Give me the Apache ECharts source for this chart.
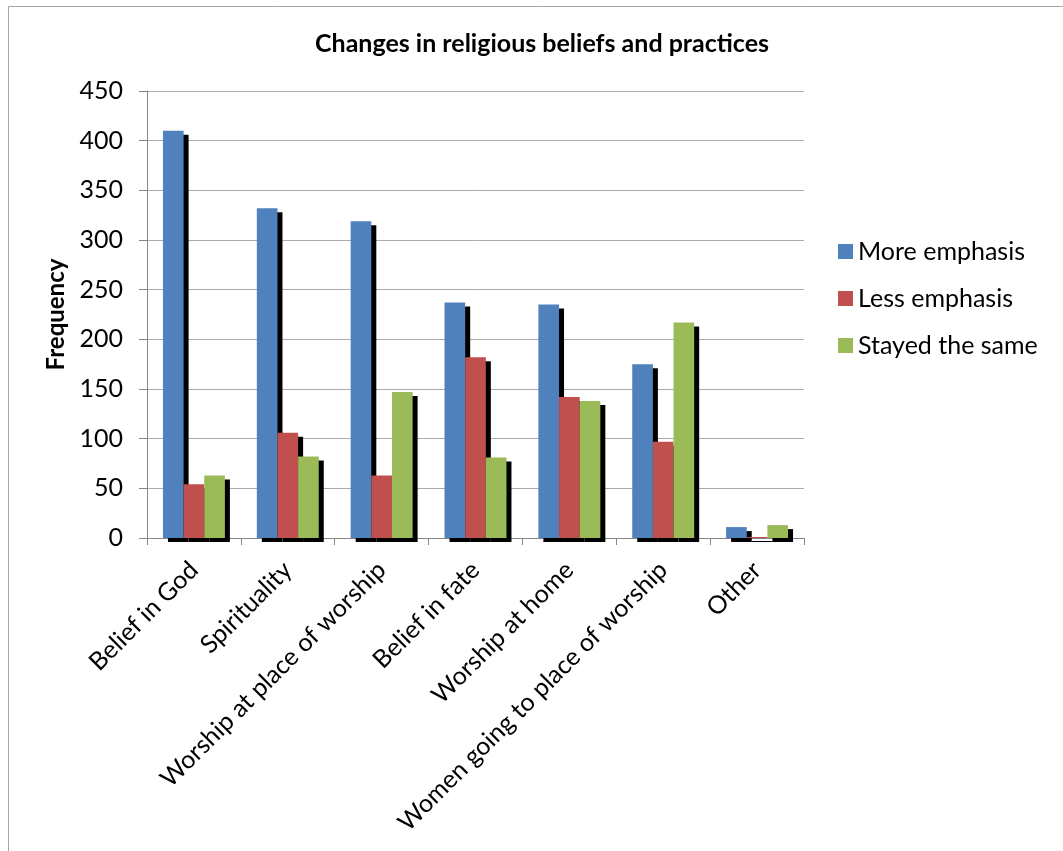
<!DOCTYPE html>
<html>
<head>
<meta charset="utf-8">
<style>
  html, body { margin: 0; padding: 0; background: #ffffff; }
  #chart { width: 1063px; height: 851px; }
</style>
<script src="https://cdn.jsdelivr.net/npm/echarts@6/dist/echarts.min.js"></script>
</head>
<body>
<div id="chart"></div>
<script>
// Survey responses: how emphasis on each belief/practice changed
const categories = [
  'Belief in God',
  'Spirituality',
  'Worship at place of worship',
  'Belief in fate',
  'Worship at home',
  'Women going to place of worship',
  'Other'
];
const moreEmphasis   = [410, 332, 319, 237, 235, 175, 11];
const lessEmphasis   = [54, 106, 63, 182, 142, 97, 1];
const stayedTheSame  = [63, 82, 147, 81, 138, 217, 13];
const seriesNames = ['More emphasis', 'Less emphasis', 'Stayed the same'];
const yTicks = { min: 0, max: 450, step: 50 };

const fontFamily = 'Lato, "Open Sans", sans-serif';
const fills = ['#4F81BD', '#C0504D', '#9BBB59'];

function barSeries(name, data, i) {
  return {
    name: name,
    type: 'bar',
    data: data,
    barGap: '0%',
    barCategoryGap: '34%',
    itemStyle: {
      color: fills[i],
      borderWidth: 0,
      // hard black drop shadow to the lower right of every bar
      shadowColor: '#000000',
      shadowBlur: 0,
      shadowOffsetX: 5,
      shadowOffsetY: 4
    },
    emphasis: { disabled: true }
  };
}

const chart = echarts.init(document.getElementById('chart'), null, { renderer: 'canvas' });
chart.setOption({
  animation: false,
  backgroundColor: '#ffffff',
  title: {
    text: 'Changes in religious beliefs and practices',
    left: 542,
    top: 31,
    padding: 0,
    textAlign: 'center',
    textStyle: { fontFamily: fontFamily, fontWeight: 'bold', fontSize: 25, color: '#000' }
  },
  graphic: [{
    type: 'rect',
    shape: { x: 8.5, y: 6.5, width: 1200, height: 1000 },
    style: { fill: 'none', stroke: '#A6A6A6', lineWidth: 1 },
    silent: true,
    z: -1
  }],
  legend: {
    orient: 'vertical',
    left: 838,
    top: 239,
    padding: 0,
    itemWidth: 15,
    itemHeight: 15,
    itemGap: 22,
    icon: 'rect',
    selectedMode: false,
    itemStyle: { shadowColor: 'transparent', shadowOffsetX: 0, shadowOffsetY: 0 },
    textStyle: { fontFamily: fontFamily, fontSize: 25, color: '#000', lineHeight: 25 },
    data: seriesNames
  },
  grid: { left: 147, right: 259, top: 91, bottom: 313, containLabel: false },
  xAxis: {
    type: 'category',
    data: categories,
    axisLine: { show: true, lineStyle: { color: '#868686', width: 1 } },
    axisTick: { show: true, length: 7, alignWithLabel: false, lineStyle: { color: '#868686' } },
    axisLabel: {
      interval: 0,
      rotate: 45,
      margin: 28,
      fontFamily: fontFamily,
      fontSize: 25,
      color: '#000'
    },
    splitLine: { show: false }
  },
  yAxis: {
    type: 'value',
    min: yTicks.min,
    max: yTicks.max,
    interval: yTicks.step,
    name: 'Frequency',
    nameLocation: 'middle',
    nameGap: 72,
    nameRotate: 90,
    nameTextStyle: { fontFamily: fontFamily, fontWeight: 'bold', fontSize: 24, color: '#000' },
    axisLine: { show: true, lineStyle: { color: '#868686', width: 1 } },
    axisTick: { show: true, length: 8, lineStyle: { color: '#868686' } },
    axisLabel: { margin: 24, fontFamily: fontFamily, fontSize: 25, color: '#000' },
    splitLine: { show: true, lineStyle: { color: '#ABABAB', width: 1 } }
  },
  series: [
    barSeries(seriesNames[0], moreEmphasis, 0),
    barSeries(seriesNames[1], lessEmphasis, 1),
    barSeries(seriesNames[2], stayedTheSame, 2)
  ]
});
</script>
</body>
</html>
